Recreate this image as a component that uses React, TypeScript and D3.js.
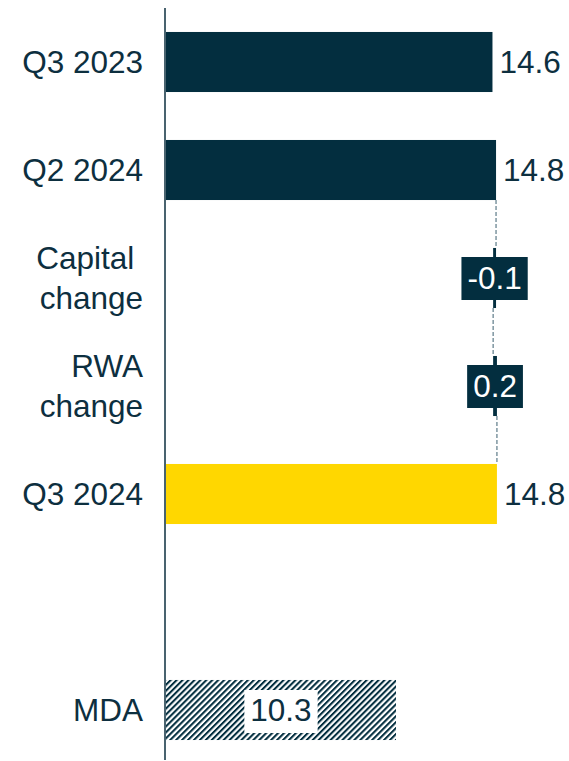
import React from "react";
import * as d3 from "d3";

const categories = ["Q3 2023", "Q2 2024", "Capital change", "RWA change", "Q3 2024", "", "MDA"];
const categoryLines = [["Q3 2023"], ["Q2 2024"], ["Capital\u00a0", "change"], ["RWA", "change"], ["Q3 2024"], [], ["MDA"]];
const totals = [
  { cat: "Q3 2023", value: 14.62 },
  { cat: "Q2 2024", value: 14.78 },
];
const changes = [
  { cat: "Capital change", value: -0.13 },
  { cat: "RWA change", value: 0.17 },
];
const current = { cat: "Q3 2024", value: 14.82 };
const mda = { cat: "MDA", value: 10.3 };

const W = 569;
const H = 761;
const DARK = "#032E3F";
const YELLOW = "#FFD700";
const TEXT = "#0D2F3F";
const FONT = "Arial, 'Liberation Sans', sans-serif";

function textWidth(s: string, fs: number) {
  let w = 0;
  for (const ch of s) {
    if (ch === "-") w += 0.333;
    else if (ch === ".") w += 0.278;
    else w += 0.556;
  }
  return w * fs;
}

export default function App() {
  const y = d3
    .scaleBand<string>()
    .domain(categories)
    .range([8, 764])
    .paddingInner(0.444)
    .paddingOuter(0.222);
  const x = d3.scaleLinear().domain([0, 15]).range([166, 166 + 15 * 22.33]);
  const bw = y.bandwidth();
  const fs = 31.5;

  let running = totals[1].value;
  const wf = changes.map((c) => {
    const start = running;
    const end = running + c.value;
    running = end;
    return { ...c, start, end };
  });

  const connectors: { x: number; y1: number; y2: number }[] = [];
  connectors.push({ x: x(totals[1].value), y1: y(totals[1].cat)! + bw, y2: y(wf[0].cat)! });
  connectors.push({ x: x(wf[0].end), y1: y(wf[0].cat)! + bw, y2: y(wf[1].cat)! });
  connectors.push({ x: x(wf[1].end), y1: y(wf[1].cat)! + bw, y2: y(current.cat)! });

  return (
    <div style={{ position: "absolute", left: 0, top: 0, width: W, height: H }}>
      <svg width={W} height={H} style={{ display: "block" }}>
        <defs>
          <pattern id="hatch" width={4.2} height={4.2} patternUnits="userSpaceOnUse" patternTransform="rotate(45)">
            <rect width={4.2} height={4.2} fill="#fff" />
            <line x1={1} y1={0} x2={1} y2={4.2} stroke={DARK} strokeWidth={2.1} />
          </pattern>
        </defs>
        <rect width={W} height={H} fill="#fff" />

        {categories.map((c, i) => {
          const lines = categoryLines[i];
          const cy = y(c)! + bw / 2;
          const lh = 40;
          return (
            <text key={"l" + i} x={143} y={cy} textAnchor="end" fontFamily={FONT} fontSize={fs} fill={TEXT} style={{ whiteSpace: "pre" }}>
              {lines.map((ln, j) => (
                <tspan key={j} x={143} y={cy + (j - (lines.length - 1) / 2) * lh} dy="0.35em">
                  {ln}
                </tspan>
              ))}
            </text>
          );
        })}

        {totals.map((d) => (
          <g key={d.cat}>
            <rect x={x(0)} y={y(d.cat)} width={x(d.value) - x(0)} height={bw} fill={DARK} />
            <text x={x(d.value) + 7} y={y(d.cat)! + bw / 2} dy="0.35em" fontFamily={FONT} fontSize={fs} fill={TEXT}>
              {d.value.toFixed(1)}
            </text>
          </g>
        ))}

        {connectors.map((c, i) => (
          <line key={"c" + i} x1={c.x} x2={c.x} y1={c.y1} y2={c.y2} stroke="#5E7C89" strokeWidth={1.2} strokeDasharray="4,2" />
        ))}

        {wf.map((d) => {
          const x0 = x(Math.min(d.start, d.end));
          const x1 = x(Math.max(d.start, d.end));
          const cx = (x0 + x1) / 2;
          const cy = y(d.cat)! + bw / 2;
          const label = d.value.toFixed(1);
          const tw = textWidth(label, fs);
          return (
            <g key={d.cat}>
              <rect x={x0} y={y(d.cat)} width={Math.max(x1 - x0, 1)} height={bw} fill={DARK} />
              <rect x={cx - tw / 2 - 6} y={cy - 21} width={tw + 12} height={43} fill={DARK} />
              <text x={cx} y={cy} dy="0.35em" textAnchor="middle" fontFamily={FONT} fontSize={fs} fill="#fff">
                {label}
              </text>
            </g>
          );
        })}

        <rect x={x(0)} y={y(current.cat)} width={x(current.value) - x(0)} height={bw} fill={YELLOW} />
        <text x={x(current.value) + 7} y={y(current.cat)! + bw / 2} dy="0.35em" fontFamily={FONT} fontSize={fs} fill={TEXT}>
          {current.value.toFixed(1)}
        </text>

        <rect x={x(0)} y={y(mda.cat)} width={x(mda.value) - x(0)} height={bw} fill="url(#hatch)" />
        {(() => {
          const cx = (x(0) + x(mda.value)) / 2;
          const cy = y(mda.cat)! + bw / 2;
          const tw = textWidth(mda.value.toFixed(1), fs);
          return (
            <g>
              <rect x={cx - tw / 2 - 6} y={cy - 20} width={tw + 12} height={43} fill="#fff" />
              <text x={cx} y={cy} dy="0.35em" textAnchor="middle" fontFamily={FONT} fontSize={fs} fill={TEXT}>
                {mda.value.toFixed(1)}
              </text>
            </g>
          );
        })()}

        <line x1={165} x2={165} y1={8} y2={760} stroke={TEXT} strokeWidth={1.5} />
      </svg>
    </div>
  );
}
